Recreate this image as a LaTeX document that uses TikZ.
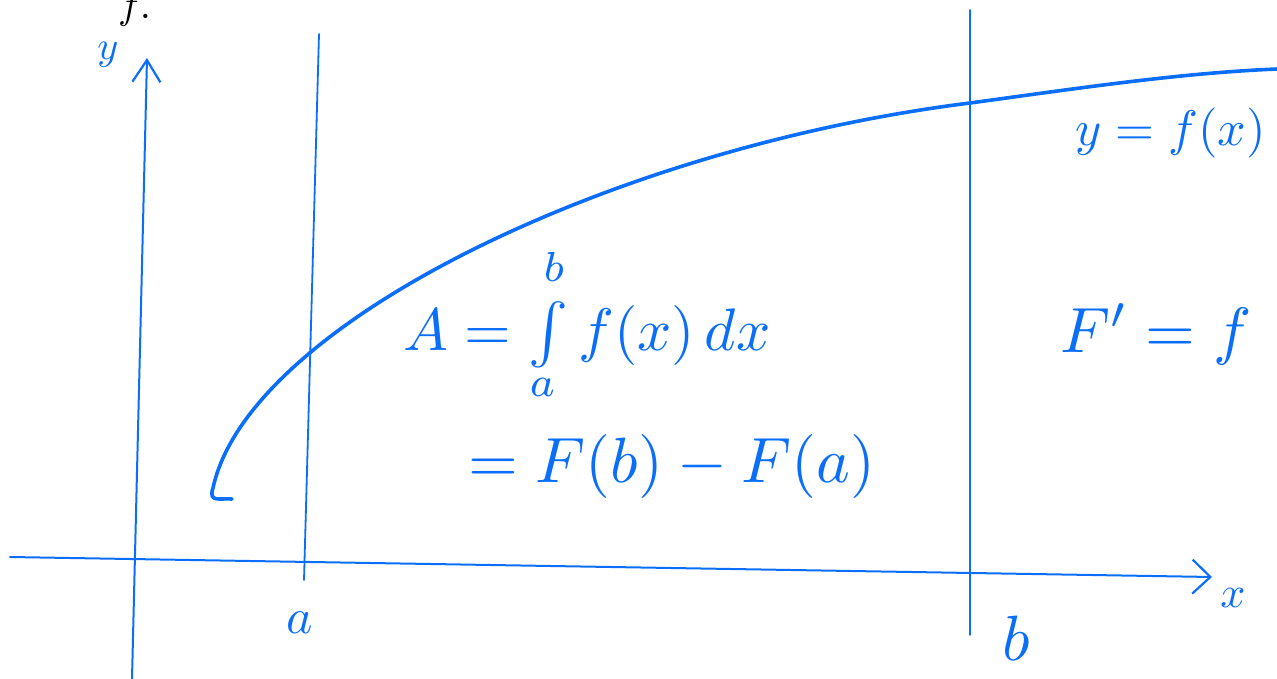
\documentclass[tikz,border=0pt]{standalone}
\usepackage{graphicx}
\usepackage{amsmath}
\usetikzlibrary{arrows.meta}
\definecolor{pen}{RGB}{10,110,250}
\newcommand\lowlim[1]{\smash[t]{\raisebox{0.3ex}{$\scriptstyle #1$}}}
\newcommand\uplim[1]{\smash{\raisebox{0.3ex}{$\scriptstyle #1$}}}
\begin{document}
\begin{tikzpicture}[x=1pt,y=-1pt,
  axis/.style={pen,line width=2pt,line cap=round},
  guide/.style={pen,line width=1.8pt,line cap=round},
  curvepen/.style={pen,line width=3.6pt,line cap=round,line join=round},
  eq/.style={pen,inner sep=0pt},
  lbl/.style={pen,inner sep=0pt}]
\useasboundingbox (0,0) rectangle (1277,679);
% black clipped text at top
\node[anchor=base west,inner sep=0pt] (ftop) at (118,19) {\scalebox{4}{$f.$}};
% axes
\coordinate (yb) at (132,679);
\coordinate (yt) at (147,58);
\coordinate (xl) at (10,557);
\coordinate (xr) at (1212,577);
\draw[axis,-{Straight Barb[length=22pt,width=28pt,line width=2.2pt]}] (yb) -- (yt);
\draw[axis,-{Straight Barb[length=18pt,width=34pt,line width=2.2pt]}] (xl) -- (xr);
% vertical guides
\coordinate (at) at (319,34);
\coordinate (ab) at (304,580);
\coordinate (bt) at (970,10);
\coordinate (bb) at (970,635);
\draw[guide] (at) -- (ab);
\draw[guide] (bt) -- (bb);
% curve
\draw[curvepen] (232,499) .. controls (220,498) and (208,503) .. (213,488)
  .. controls (248,325) and (610,148) .. (970,103)
  .. controls (1080,88) and (1180,73) .. (1277,69);
% labels
\node[lbl] (ylab) at (108,55) {\scalebox{4}{$y$}};
\node[lbl] (xlab) at (1233,598) {\scalebox{4.4}{$x$}};
\node[lbl,anchor=base] (alab) at (300,633) {\scalebox{5}{$a$}};
\node[lbl,anchor=base] (blab) at (1016,660) {\scalebox{6.4}{$b$}};
\node[eq,anchor=base west] (eq1) at (403,350) {\scalebox{6.0}{$A=\int\limits_{\lowlim{a}}^{\uplim{b}} f(x)\,dx$}};
\node[eq,anchor=base west] (eq2) at (468,482) {\scalebox{6.4}{$=F(b)-F(a)$}};
\node[eq,anchor=base west] (eq3) at (1060,352) {\scalebox{6.4}{$F'=f$}};
\node[eq,anchor=base west] (eq4) at (1075,146) {\scalebox{5}{$y=f(x)$}};
\end{tikzpicture}
\end{document}
